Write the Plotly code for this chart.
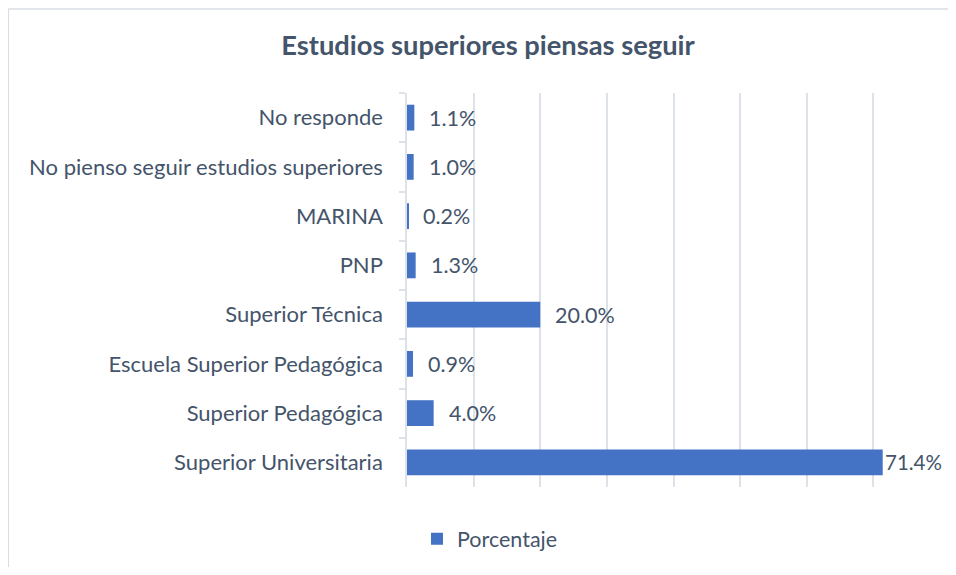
import plotly.graph_objects as go

categories = [
    "No responde",
    "No pienso seguir estudios superiores",
    "MARINA",
    "PNP",
    "Superior Técnica",
    "Escuela Superior Pedagógica",
    "Superior Pedagógica",
    "Superior Universitaria",
]
values = [1.1, 1.0, 0.2, 1.3, 20.0, 0.9, 4.0, 71.4]
series_name = "Porcentaje"
title_text = "Estudios superiores piensas seguir"

TEXT = "#44546a"
BAR = "#4472c4"
GRID = "#dde1e8"
FONT = "Lato, 'Open Sans', sans-serif"

# the page places the figure 8px from each edge
OFF = 8
W, H = 956 - 2 * OFF, 575 - 2 * OFF
ml, mt = 407 - OFF, 93 - OFF
pw = 940 - 407
ph = 489 - 93
mr = W - ml - pw
mb = H - mt - ph


def px_to_paper_x(px):
    return (px - OFF - ml) / pw


def px_to_paper_y(py):
    return (mt + ph - (py - OFF)) / ph


fig = go.Figure()
fig.add_trace(go.Bar(
    y=categories, x=values, orientation="h", name=series_name,
    marker=dict(color=BAR, line=dict(width=0)),
    hoverinfo="x+y",
))

vmax = max(values)
for c, v in zip(categories, values):
    fig.add_annotation(
        x=v, y=c, xref="x", yref="y", text=f"{v:.1f}%",
        showarrow=False, xanchor="left", yanchor="middle",
        xshift=13 if v < vmax else 0,
        font=dict(family=FONT, size=21.5 if v < vmax else 20.5, color=TEXT),
    )

# chart frame (left & top edges visible)
fig.add_shape(type="line", xref="paper", yref="paper",
              x0=px_to_paper_x(8.3), x1=px_to_paper_x(8.3),
              y0=px_to_paper_y(8.5), y1=px_to_paper_y(600),
              line=dict(color="#d9dde3", width=1.5))
fig.add_shape(type="line", xref="paper", yref="paper",
              x0=px_to_paper_x(8.3), x1=px_to_paper_x(980),
              y0=px_to_paper_y(8.5), y1=px_to_paper_y(8.5),
              line=dict(color="#d9dde3", width=1.5))

fig.update_layout(
    width=W, height=H,
    margin=dict(l=ml, r=mr, t=mt, b=mb, pad=0),
    paper_bgcolor="white", plot_bgcolor="white",
    font=dict(family=FONT, size=22, color=TEXT),
    title=dict(text=f"<b>{title_text}</b>", x=(488 - OFF) / W, xanchor="center",
               y=1 - (45 - OFF) / H, yanchor="middle", xref="container", yref="container",
               font=dict(family=FONT, size=27.3, color=TEXT)),
    bargap=0.476,
    showlegend=True,
    legend=dict(orientation="h", x=px_to_paper_x(490), xanchor="center",
                y=px_to_paper_y(541), yanchor="middle",
                font=dict(family=FONT, size=21.5, color=TEXT),
                itemwidth=30),
    xaxis=dict(range=[0, 80], dtick=10, showticklabels=False,
               showgrid=True, gridcolor=GRID, gridwidth=1.5,
               zeroline=False, showline=False, fixedrange=True),
    yaxis=dict(autorange="reversed", showline=True, linecolor=GRID, linewidth=1.5,
               ticks="outside", tickson="boundaries", ticklen=6, tickcolor=GRID,
               tickwidth=1.5, showgrid=False, ticklabelstandoff=18,
               tickfont=dict(family=FONT, size=22, color=TEXT)),
)

fig.write_html("out.html")
